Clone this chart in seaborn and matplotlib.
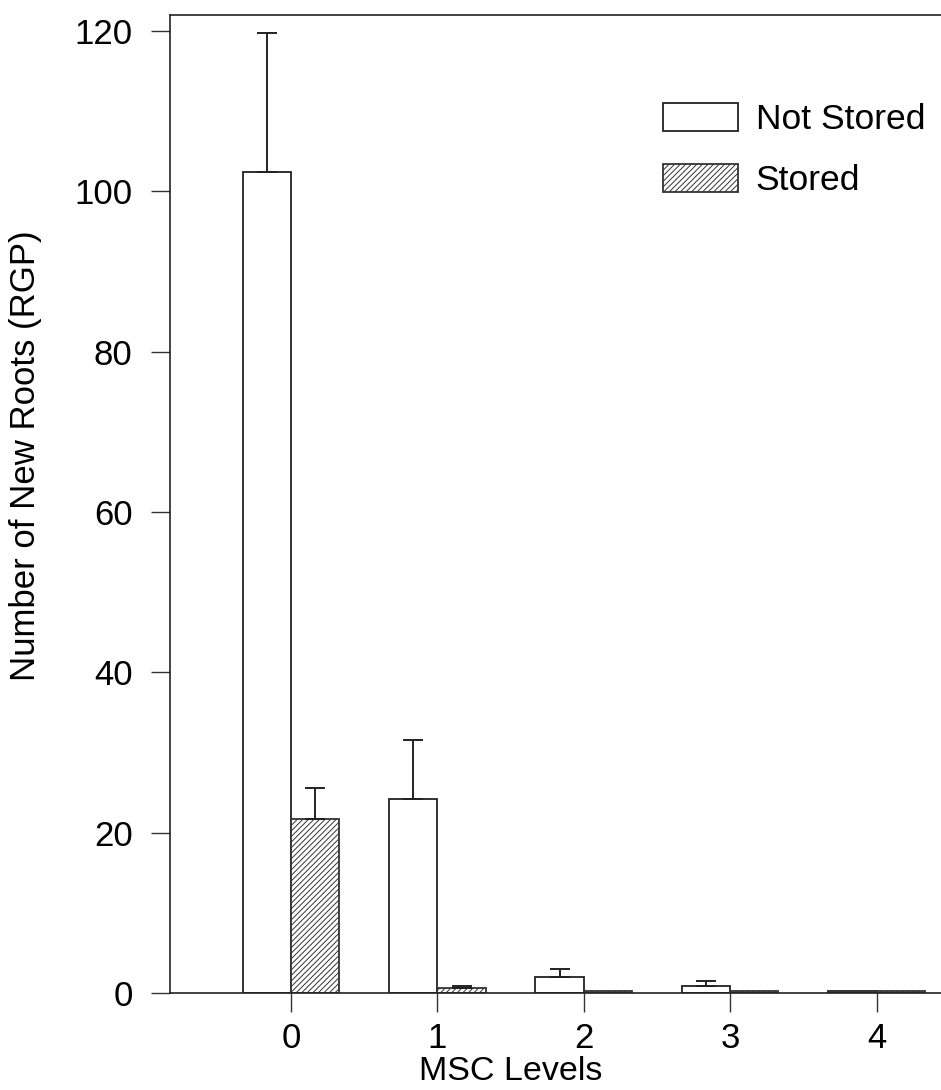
import matplotlib
matplotlib.use("Agg")
import matplotlib.pyplot as plt
import seaborn as sns
import pandas as pd
import numpy as np
from matplotlib.patches import Patch

# ---- data ----
levels = ["0", "1", "2", "3", "4"]
not_stored = [102.4, 24.2, 2.0, 0.9, 0.2]
not_stored_err = [17.3, 7.4, 1.0, 0.6, 0.0]
stored = [21.7, 0.6, 0.2, 0.2, 0.2]
stored_err = [3.9, 0.3, 0.0, 0.0, 0.0]
series_names = ["Not Stored", "Stored"]
y_ticks = [0, 20, 40, 60, 80, 100, 120]

sns.set_style("ticks")
plt.rcParams["font.family"] = ["Liberation Sans", "DejaVu Sans"]
plt.rcParams["hatch.linewidth"] = 0.7
plt.rcParams["text.color"] = "black"
plt.rcParams["axes.labelcolor"] = "black"
plt.rcParams["xtick.labelcolor"] = "black"
plt.rcParams["ytick.labelcolor"] = "black"

df = pd.DataFrame({
    "MSC": levels * 2,
    "value": not_stored + stored,
    "series": [series_names[0]] * len(levels) + [series_names[1]] * len(levels),
})

fig = plt.figure(figsize=(9.41, 10.9), dpi=100)
ax = fig.add_axes([0.1807, 0.0890, 0.8193, 0.8972])

sns.barplot(data=df, x="MSC", y="value", hue="series", order=levels,
            hue_order=series_names, palette=["white", "white"], width=0.66,
            edgecolor="#222222", linewidth=1.3, errorbar=None, ax=ax,
            legend=False)

n = len(levels)
patches = ax.patches
hatches = ["", "//////"]
errs = [not_stored_err, stored_err]
vals = [not_stored, stored]
for s in range(2):
    xs, ys, es = [], [], []
    for i in range(n):
        p = patches[s * n + i]
        p.set_hatch(hatches[s])
        if s == 1:
            p.set_edgecolor("#333333")
        if errs[s][i] > 0:
            xs.append(p.get_x() + p.get_width() / 2)
            ys.append(vals[s][i])
            es.append(errs[s][i])
    ax.errorbar(xs, ys, yerr=[np.zeros(len(es)), es], fmt="none",
                ecolor="#222222", elinewidth=1.4, capsize=7, capthick=1.4)

ax.set_xlim(-0.826, 4.44)
ax.set_ylim(0, 122)
ax.set_yticks(y_ticks)
ax.tick_params(axis="both", direction="out", length=14, width=1.0,
               labelsize=25, color="#333333")
ax.tick_params(axis="y", pad=13)
ax.tick_params(axis="x", pad=7)
ax.set_xlabel("MSC Levels", fontsize=24.5)
ax.set_ylabel("Number of New Roots (RGP)", fontsize=25)
ax.xaxis.set_label_coords(0.442, -0.0645)
ax.yaxis.set_label_coords(-0.166, 0.549)

for sp in ["left", "bottom", "top"]:
    ax.spines[sp].set_linewidth(1.2)
    ax.spines[sp].set_color("#222222")
ax.spines["right"].set_visible(False)

handles = [Patch(facecolor="white", edgecolor="#222222", linewidth=1.3),
           Patch(facecolor="white", edgecolor="#333333", linewidth=1.3, hatch="//////")]
ax.legend(handles, series_names, loc="upper left",
          bbox_to_anchor=(0.621, 0.925), frameon=False, fontsize=25.5,
          handlelength=2.12, handleheight=0.85, labelspacing=0.78,
          handletextpad=0.5, borderaxespad=0)

fig.savefig("out.png", dpi=100)
